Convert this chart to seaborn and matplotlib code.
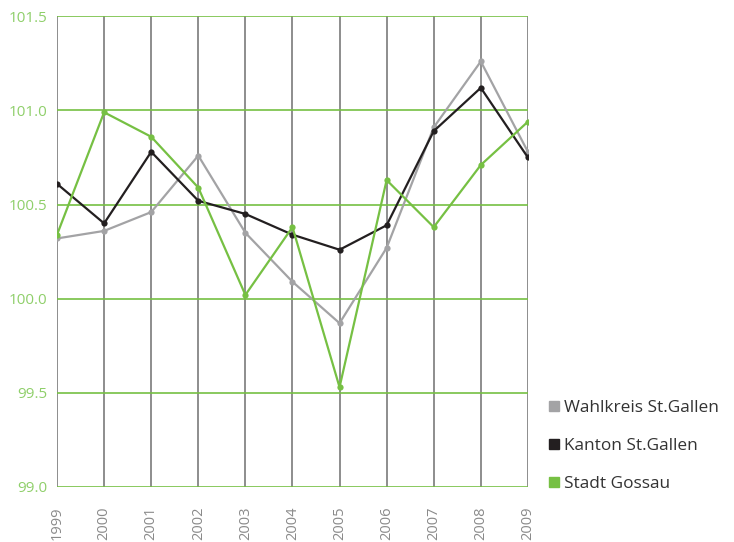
import numpy as np
import pandas as pd
import seaborn as sns
import matplotlib.pyplot as plt
from matplotlib.lines import Line2D

# Data
years = [1999, 2000, 2001, 2002, 2003, 2004, 2005, 2006, 2007, 2008, 2009]
wahlkreis = [100.32, 100.36, 100.46, 100.76, 100.35, 100.09, 99.87, 100.27, 100.91, 101.26, 100.78]
kanton = [100.61, 100.40, 100.78, 100.52, 100.45, 100.34, 100.26, 100.39, 100.89, 101.12, 100.75]
gossau = [100.34, 100.99, 100.86, 100.59, 100.02, 100.38, 99.53, 100.63, 100.38, 100.71, 100.94]
series_names = ['Wahlkreis St.Gallen', 'Kanton St.Gallen', 'Stadt Gossau']
y_ticks = [99.0, 99.5, 100.0, 100.5, 101.0, 101.5]

green = '#76c043'
colors = {'Wahlkreis St.Gallen': '#a3a3a5', 'Kanton St.Gallen': '#231f20', 'Stadt Gossau': green}

df = pd.DataFrame({'Jahr': years * 3,
                   'Wert': wahlkreis + kanton + gossau,
                   'Serie': np.repeat(series_names, len(years))})

sns.set_style('white')
plt.rcParams['font.family'] = ['Open Sans', 'DejaVu Sans']

fig = plt.figure(figsize=(7.34, 5.42), dpi=100)
ax = fig.add_axes([0.0777, 0.1015, 0.6415, 0.8685])

# vertical year lines
for yr in years:
    ax.axvline(yr, color='#7a7a7a', lw=1.2, zorder=1)
# horizontal green grid
for yv in y_ticks:
    ax.axhline(yv, color=green, lw=1.2, zorder=1)

sns.lineplot(data=df, x='Jahr', y='Wert', hue='Serie', palette=colors,
             hue_order=series_names, marker='o', markersize=4.5, markeredgewidth=0,
             linewidth=1.6, legend=False, ax=ax, zorder=3)

ax.set_xlim(1999, 2009)
ax.set_ylim(99.0, 101.5)
ax.set_yticks(y_ticks)
ax.set_yticklabels([f'{v:.1f}' for v in y_ticks], color='#8fcf6a', fontsize=11)
ax.set_xticks(years)
ax.set_xticklabels([str(y) for y in years], rotation=90, color='#8a8a8a',
                   fontsize=10.5, va='top')
ax.tick_params(axis='both', length=0)
ax.tick_params(axis='y', pad=7)
ax.tick_params(axis='x', pad=14)
ax.set_xlabel('')
ax.set_ylabel('')
for s in ax.spines.values():
    s.set_visible(False)

handles = [Line2D([], [], marker='s', linestyle='', color=colors[n], markersize=7)
           for n in series_names]
fig.legend(handles, series_names, loc='upper left', bbox_to_anchor=(0.722, 0.29),
           frameon=False, fontsize=12.4, labelcolor='#333333', handletextpad=0.05,
           labelspacing=1.25, handlelength=1.0)

fig.savefig('out.png', dpi=100)
